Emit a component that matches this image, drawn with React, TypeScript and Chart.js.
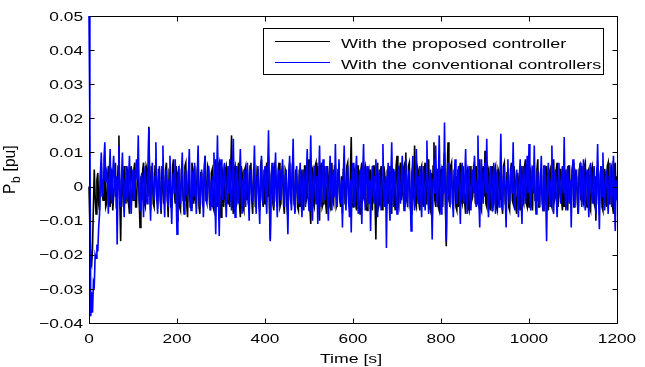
import React, { useEffect, useRef } from "react";
import { Chart, registerables } from "chart.js";

Chart.register(...registerables);

// Sampling step of both recorded series [s]
const DT = 2;

// P_b [pu] with the proposed controller (black)
const proposed = [
  0, -0.012, -0.022, -0.023, -0.018, -0.006, 0.005, -0.003, -0.008, 0.002, 0.004, -0.005, -0.007, 0.003, 0.007, -0.002, -0.004, 0.004, 0.006, -0.006,
  -0.005, 0.002, 0.006, -0.004, -0.006, 0.005, 0.004, -0.007, -0.003, 0.003, 0.007, -0.005, -0.004, 0.006, 0.015, -0.004, -0.016, 0.002, 0.005, -0.006,
  0.006, -0.003, -0.005, 0.006, 0.003, -0.005, -0.008, 0.004, 0.006, 0.001, -0.004, 0.005, 0.007, -0.006, -0.006, 0.004, 0.005, -0.004, -0.012, 0.003,
  -0.004, 0.005, 0.007, -0.005, -0.006, 0.006, 0.005, -0.003, 0.0175, 0.002, -0.007, 0.006, 0.004, -0.005, -0.006, 0.006, 0.008, -0.004, -0.005, 0.005,
  0.005, -0.004, -0.008, 0.006, 0.006, -0.005, -0.002, 0.005, 0.007, -0.003, -0.009, 0.004, 0.003, -0.006, -0.006, 0.006, 0.008, -0.002, -0.005, 0.006,
  -0.010, 0.004, 0.005, -0.006, -0.007, 0.005, 0.006, -0.004, -0.004, 0.006, 0.007, -0.005, -0.009, 0.003, 0.002, -0.006, -0.006, 0.007, 0.004, -0.005,
  0.006, -0.004, -0.005, 0.005, 0.007, -0.006, -0.008, 0.004, 0.004, -0.005, -0.006, 0.006, 0.009, -0.004, -0.003, 0.006, 0.005, -0.005, -0.007, 0.004,
  0.005, -0.006, -0.007, 0.005, 0.008, -0.003, -0.006, 0.006, 0.007, -0.005, -0.009, 0.004, 0.005, -0.006, -0.002, 0.005, 0.006, -0.004, -0.005, 0.006,
  -0.006, 0.005, 0.015, -0.004, -0.008, 0.005, 0.006, -0.006, -0.005, 0.004, 0.007, -0.005, -0.009, 0.006, 0.004, -0.006, -0.007, 0.005, 0.006, -0.004,
  0.005, -0.005, -0.006, 0.006, 0.007, -0.004, -0.008, 0.005, 0.006, -0.006, -0.003, 0.005, 0.004, -0.005, -0.007, 0.006, 0.008, -0.004, -0.006, 0.005,
  -0.005, 0.004, 0.007, -0.003, 0.009, -0.006, -0.0155, 0.003, 0.006, -0.005, -0.007, 0.006, 0.005, -0.004, -0.006, 0.005, 0.007, -0.006, -0.005, 0.004,
  0.006, -0.005, -0.008, 0.005, 0.004, -0.006, -0.009, 0.004, 0.007, -0.004, -0.005, 0.006, 0.008, -0.005, -0.006, 0.005, 0.003, -0.006, -0.007, 0.005,
  -0.006, 0.004, 0.005, -0.005, -0.007, 0.006, 0.006, -0.004, -0.003, 0.005, 0.008, -0.006, -0.011, 0.004, 0.005, -0.005, -0.006, 0.006, 0.007, -0.004,
  0.006, -0.004, -0.010, 0.005, 0.007, -0.006, -0.005, 0.004, 0.006, -0.005, -0.008, 0.006, 0.002, -0.005, -0.006, 0.005, 0.007, -0.004, -0.005, 0.006,
  0.006, -0.006, -0.005, 0.005, 0.007, -0.004, -0.006, 0.003, -0.008, 0.005, 0.006, -0.005, -0.004, 0.006, 0.007, -0.005, -0.006, 0.004, 0.0145, -0.005,
  -0.006, 0.004, 0.005, -0.005, -0.007, 0.006, 0.006, -0.006, -0.008, 0.005, 0.007, -0.004, -0.003, 0.005, 0.006, -0.006, -0.007, 0.004, 0.005, -0.005,
  0.005, -0.005, -0.007, 0.006, 0.006, -0.004, -0.0155, 0.005, 0.007, -0.006, -0.005, 0.004, 0.006, -0.005, -0.007, 0.006, 0.004, -0.005, -0.006, 0.005,
  -0.005, 0.004, 0.006, -0.006, -0.008, 0.005, 0.005, -0.004, -0.007, 0.006, 0.009, -0.005, -0.006, 0.005, 0.007, -0.004, -0.002, 0.005, 0.006, -0.006,
  0.010, -0.004, -0.005, 0.006, 0.007, -0.006, -0.008, 0.004, 0.006, -0.003, 0.012, -0.005, -0.006, 0.006, 0.005, -0.005, -0.007, 0.005, 0.006, -0.004,
  -0.006, 0.005, 0.007, -0.005, -0.004, 0.006, 0.008, -0.006, -0.007, 0.004, -0.010, 0.006, 0.013, -0.004, -0.006, 0.005, 0.005, -0.006, -0.007, 0.004,
  0.005, -0.004, -0.006, 0.006, 0.010, -0.005, -0.0175, 0.004, 0.013, -0.004, -0.005, 0.006, 0.007, -0.005, -0.006, 0.005, 0.003, -0.006, -0.007, 0.005,
  -0.006, 0.005, 0.007, -0.004, -0.005, 0.006, 0.006, -0.005, -0.008, 0.004, 0.005, -0.006, -0.007, 0.005, 0.006, -0.004, -0.003, 0.006, 0.007, -0.005,
  0.006, -0.004, -0.005, 0.005, 0.008, -0.006, -0.007, 0.004, 0.006, -0.003, 0.0105, -0.005, -0.006, 0.006, 0.005, -0.005, -0.007, 0.004, 0.006, -0.006,
  -0.005, 0.005, 0.006, -0.006, -0.007, 0.005, 0.004, -0.004, 0.006, -0.005, -0.008, 0.006, 0.007, -0.005, -0.006, 0.004, 0.005, -0.006, -0.007, 0.005,
  0.007, -0.004, -0.005, 0.006, 0.006, -0.006, -0.008, 0.004, 0.002, -0.005, -0.007, 0.005, 0.006, -0.004, -0.005, 0.006, 0.008, -0.005, -0.006, 0.004,
  -0.006, 0.004, 0.005, -0.005, -0.007, 0.006, 0.006, -0.004, -0.004, 0.005, 0.008, -0.006, -0.006, 0.004, 0.005, -0.005, -0.007, 0.006, 0.006, -0.004,
  0.006, -0.005, -0.007, 0.004, 0.005, -0.005, -0.006, 0.006, 0.008, -0.004, -0.003, 0.005, 0.007, -0.006, -0.006, 0.005, 0.005, -0.004, -0.007, 0.006,
  -0.006, 0.004, 0.005, -0.005, -0.007, 0.006, 0.006, -0.004, -0.005, 0.005, 0.007, -0.006, -0.006, 0.004, 0.003, -0.005, -0.008, 0.005, 0.006, -0.004,
  0.006, -0.004, -0.005, 0.006, 0.007, -0.005, -0.006, 0.004, 0.005, -0.006, -0.007, 0.005, 0.006, -0.004, -0.005, 0.003, -0.010, 0.005, 0.006, -0.005,
  -0.005, 0.004, 0.006, -0.006, -0.007, 0.005, 0.005, -0.004, -0.006, 0.006, 0.007, -0.005, -0.004, 0.005, 0.006, -0.006, -0.008, 0.005, 0.007, -0.004,
  0.003,
];

// P_b [pu] with the conventional controllers (blue)
const conventional = [
  0.05, 0.018, -0.038, -0.031, -0.037, -0.028, -0.029, -0.020, -0.021, -0.017, -0.019, -0.012, -0.008, 0.004, 0.010, -0.003, 0.002, 0.008, 0.013, 0.001,
  0.004, 0.002, -0.008, 0.003, 0.011, -0.002, -0.005, 0.004, 0.009, 0.001, -0.003, 0.003, -0.017, 0.002, 0.012, -0.004, -0.006, 0.003, 0.010, -0.002,
  -0.009, 0.002, 0.006, -0.003, -0.004, 0.003, 0.009, -0.002, -0.008, 0.001, 0.005, -0.004, -0.002, 0.003, 0.008, 0.002, 0.015, -0.003, -0.007, 0.002,
  0.004, -0.002, -0.009, 0.003, 0.006, -0.003, -0.005, 0.002, 0.017, -0.001, -0.010, 0.004, 0.007, -0.002, -0.004, 0.003, 0.013, -0.003, -0.008, 0.002,
  0.006, -0.003, -0.007, 0.002, 0.012, -0.002, -0.009, 0.003, 0.005, -0.004, -0.006, 0.002, 0.009, -0.003, -0.011, 0.001, 0.004, -0.002, 0.008, -0.003,
  -0.014, 0.002, 0.006, -0.002, -0.005, 0.003, 0.010, -0.003, -0.008, 0.002, 0.005, -0.002, -0.003, 0.004, 0.011, -0.002, -0.007, 0.003, 0.004, -0.003,
  0.007, -0.002, -0.008, 0.003, 0.012, -0.003, -0.006, 0.002, 0.005, -0.001, -0.009, 0.003, 0.009, -0.004, -0.005, 0.002, 0.006, -0.003, -0.007, 0.002,
  -0.006, 0.003, 0.010, -0.002, -0.014, 0.002, 0.015, -0.003, -0.0145, 0.002, 0.008, -0.002, -0.004, 0.003, 0.007, -0.003, -0.009, 0.002, 0.006, -0.002,
  0.008, -0.003, -0.007, 0.002, 0.014, -0.002, -0.009, 0.003, 0.006, -0.003, -0.005, 0.004, 0.011, -0.002, -0.008, 0.002, 0.005, -0.003, -0.006, 0.003,
  0.007, -0.002, -0.010, 0.003, 0.005, -0.003, -0.004, 0.002, 0.012, -0.002, -0.008, 0.003, 0.006, -0.004, -0.011, 0.002, 0.009, -0.003, -0.005, 0.002,
  0.006, -0.003, -0.008, 0.004, 0.0165, -0.002, -0.016, 0.002, 0.007, -0.003, -0.006, 0.002, 0.010, -0.002, -0.009, 0.003, 0.005, -0.002, -0.004, 0.003,
  0.008, -0.002, -0.006, 0.003, 0.005, -0.003, -0.014, 0.002, 0.009, -0.002, -0.007, 0.003, 0.014, -0.003, -0.008, 0.002, 0.006, -0.003, -0.005, 0.002,
  0.007, -0.003, -0.009, 0.002, 0.005, -0.002, -0.006, 0.003, 0.011, -0.003, -0.007, 0.002, 0.015, -0.002, -0.010, 0.003, 0.006, -0.002, -0.005, 0.003,
  -0.011, 0.002, 0.012, -0.003, -0.006, 0.002, 0.008, -0.002, -0.004, 0.003, 0.006, -0.003, -0.010, 0.002, 0.009, -0.002, -0.007, 0.003, 0.005, -0.003,
  0.0125, -0.002, -0.006, 0.003, 0.008, -0.003, -0.005, 0.002, -0.012, 0.003, 0.012, -0.002, -0.007, 0.002, 0.006, -0.003, -0.009, 0.002, -0.0135, 0.003,
  0.007, -0.002, -0.006, 0.003, 0.009, -0.003, -0.008, 0.002, 0.005, -0.002, -0.011, 0.003, 0.0125, -0.002, -0.007, 0.003, 0.006, -0.003, -0.005, 0.002,
  -0.013, 0.002, 0.006, -0.003, -0.005, 0.003, 0.008, -0.002, -0.009, 0.002, 0.005, -0.003, -0.007, 0.002, 0.0125, -0.002, -0.006, 0.003, -0.018, 0.002,
  0.007, -0.003, -0.010, 0.002, 0.013, -0.002, -0.006, 0.003, 0.005, -0.003, -0.008, 0.002, 0.006, -0.002, -0.005, 0.003, 0.009, -0.002, -0.007, 0.003,
  0.008, -0.002, -0.006, 0.003, 0.005, -0.002, -0.013, 0.003, 0.009, -0.003, -0.007, 0.002, 0.011, -0.002, -0.005, 0.003, 0.006, -0.003, -0.009, 0.002,
  0.006, -0.003, -0.007, 0.002, 0.0135, -0.002, -0.008, 0.003, 0.005, -0.003, -0.0155, 0.002, 0.008, -0.002, 0.012, -0.003, -0.006, 0.002, 0.015, -0.002,
  -0.008, 0.003, 0.006, -0.002, 0.0188, -0.003, -0.016, 0.002, 0.007, -0.002, -0.006, 0.003, 0.005, -0.003, -0.009, 0.002, 0.008, -0.002, -0.005, 0.003,
  0.006, -0.002, -0.011, 0.003, 0.007, -0.003, -0.005, 0.002, 0.011, -0.002, -0.008, 0.003, 0.006, -0.003, -0.007, 0.002, 0.005, -0.002, 0.009, -0.003,
  -0.006, 0.002, 0.015, -0.003, -0.012, 0.002, 0.008, -0.002, -0.005, 0.003, 0.007, -0.002, 0.014, -0.003, -0.009, 0.002, 0.006, -0.003, -0.007, 0.002,
  0.007, -0.002, -0.008, 0.003, 0.005, -0.003, -0.006, 0.002, 0.0155, -0.002, -0.007, 0.003, 0.006, -0.003, -0.012, 0.002, 0.008, -0.002, -0.005, 0.003,
  0.006, -0.002, 0.013, -0.003, -0.007, 0.002, 0.005, -0.002, -0.009, 0.003, 0.008, -0.003, -0.011, 0.002, 0.006, -0.002, -0.005, 0.003, 0.009, -0.002,
  0.0125, -0.003, -0.007, 0.002, 0.006, -0.002, 0.012, -0.003, -0.008, 0.002, 0.005, -0.003, -0.006, 0.002, 0.009, -0.002, -0.007, 0.003, 0.006, -0.003,
  -0.016, 0.002, 0.007, -0.003, -0.006, 0.002, 0.012, -0.002, -0.008, 0.003, 0.005, -0.003, -0.009, 0.002, 0.007, -0.002, -0.005, 0.003, 0.006, -0.002,
  0.0145, -0.002, -0.007, 0.003, 0.006, -0.003, -0.005, 0.002, -0.012, 0.003, 0.008, -0.002, -0.006, 0.003, 0.005, -0.003, -0.008, 0.002, 0.007, -0.002,
  -0.006, 0.003, 0.008, -0.002, -0.007, 0.002, 0.005, -0.003, -0.009, 0.002, 0.007, -0.002, -0.005, 0.003, 0.006, -0.003, -0.008, 0.002, 0.0125, -0.003,
  -0.0125, 0.002, 0.006, -0.003, 0.010, -0.002, -0.007, 0.003, 0.005, -0.002, -0.008, 0.003, 0.007, -0.002, -0.006, 0.002, 0.009, -0.003, -0.013, 0.002,
  -0.004,
];

const times = proposed.map((_, i) => i * DT);

const xTicks = [0, 200, 400, 600, 800, 1000, 1200];
const xTickLabels = ["0", "200", "400", "600", "800", "1000", "1200"];
const yTicks = [-0.04, -0.03, -0.02, -0.01, 0, 0.01, 0.02, 0.03, 0.04, 0.05];
const yTickLabels = ["\u22120.04", "\u22120.03", "\u22120.02", "\u22120.01", "0", "0.01", "0.02", "0.03", "0.04", "0.05"];
const seriesLabels = ["With the proposed controller", "With the conventional controllers"];
const seriesColors = ["#000000", "#0000ff"];
const xTitle = "Time [s]";
const yTitleMain = "P";
const yTitleSub = "b";
const yTitleRest = " [pu]";

const FONT = '13px "Liberation Sans", Arial, Helvetica, sans-serif';
const SUBFONT = '10px "Liberation Sans", Arial, Helvetica, sans-serif';
const SX = 1.33;

function drawText(ctx: CanvasRenderingContext2D, text: string, x: number, y: number, align: CanvasTextAlign, sx: number = SX) {
  ctx.save();
  ctx.translate(x, y);
  ctx.scale(sx, 1);
  ctx.font = FONT;
  ctx.fillStyle = "#000";
  ctx.textAlign = align;
  ctx.textBaseline = "alphabetic";
  ctx.fillText(text, 0, 0);
  ctx.restore();
}

const matlabAxes = {
  id: "matlabAxes",
  beforeDraw(chart: any) {
    const ctx = chart.ctx;
    ctx.save();
    ctx.fillStyle = "#fff";
    ctx.fillRect(0, 0, chart.width, chart.height);
    ctx.restore();
  },
  afterDraw(chart: any) {
    const ctx: CanvasRenderingContext2D = chart.ctx;
    const a = chart.chartArea;
    const xs = chart.scales.x;
    const ys = chart.scales.y;
    const L = Math.round(a.left) + 0.5;
    const R = Math.round(a.right) + 0.5;
    const T = Math.round(a.top) + 0.5;
    const B = Math.round(a.bottom) + 0.5;
    ctx.save();
    ctx.strokeStyle = "#000";
    ctx.lineWidth = 1;
    ctx.strokeRect(L, T, R - L, B - T);
    const tl = 5;
    ctx.beginPath();
    xTicks.forEach((v) => {
      const px = Math.round(xs.getPixelForValue(v)) + 0.5;
      ctx.moveTo(px, B);
      ctx.lineTo(px, B - tl);
      ctx.moveTo(px, T);
      ctx.lineTo(px, T + tl);
    });
    yTicks.forEach((v) => {
      const py = Math.round(ys.getPixelForValue(v)) + 0.5;
      ctx.moveTo(L, py);
      ctx.lineTo(L + tl, py);
      ctx.moveTo(R, py);
      ctx.lineTo(R - tl, py);
    });
    ctx.stroke();

    xTicks.forEach((v, i) => {
      drawText(ctx, xTickLabels[i], xs.getPixelForValue(v), a.bottom + 20, "center");
    });
    yTicks.forEach((v, i) => {
      drawText(ctx, yTickLabels[i], a.left - 6, ys.getPixelForValue(v) + 4.7, "right");
    });
    drawText(ctx, xTitle, (a.left + a.right) / 2 - 2, a.bottom + 40, "center", 1.36);

    // y title with subscript, rotated
    ctx.save();
    ctx.translate(15, 194);
    ctx.rotate(-Math.PI / 2);
    ctx.scale(1.2, 1.2);
    ctx.fillStyle = "#000";
    ctx.textBaseline = "alphabetic";
    ctx.textAlign = "left";
    ctx.font = FONT;
    ctx.fillText(yTitleMain, 0, 0);
    const wP = ctx.measureText(yTitleMain).width;
    ctx.font = SUBFONT;
    ctx.fillText(yTitleSub, wP + 0.5, 4);
    const wb = ctx.measureText(yTitleSub).width;
    ctx.font = FONT;
    ctx.fillText(yTitleRest, wP + wb + 1, 0);
    ctx.restore();

    // legend box
    const lx = 263.5, ly = 28.5, lw = 340, lh = 46;
    ctx.fillStyle = "#fff";
    ctx.fillRect(lx, ly, lw, lh);
    ctx.strokeStyle = "#000";
    ctx.strokeRect(lx, ly, lw, lh);
    const rowY = [41.5, 62.5];
    seriesLabels.forEach((lab, i) => {
      ctx.strokeStyle = seriesColors[i];
      ctx.beginPath();
      ctx.moveTo(275, rowY[i]);
      ctx.lineTo(330, rowY[i]);
      ctx.stroke();
      drawText(ctx, lab, 341, rowY[i] + 6, "left", 1.385);
    });
    ctx.restore();
  },
};

export default function App() {
  const ref = useRef<HTMLCanvasElement | null>(null);
  useEffect(() => {
    if (!ref.current) return;
    const chart = new Chart(ref.current, {
      type: "line",
      data: {
        labels: times,
        datasets: [
          {
            label: seriesLabels[0],
            data: proposed,
            borderColor: seriesColors[0],
            borderWidth: 1.6,
            pointRadius: 0,
            tension: 0,
            fill: false,
            order: 1,
            clip: { left: 2, right: 0, top: 1, bottom: 0 },
          },
          {
            label: seriesLabels[1],
            data: conventional,
            borderColor: seriesColors[1],
            borderWidth: 1.6,
            pointRadius: 0,
            tension: 0,
            fill: false,
            order: 0,
            clip: { left: 2, right: 0, top: 1, bottom: 0 },
          },
        ],
      },
      options: {
        animation: false,
        responsive: false,
        maintainAspectRatio: false,
        devicePixelRatio: 1,
        layout: { padding: { left: 89, right: 28, top: 16, bottom: 44 } },
        plugins: { legend: { display: false }, tooltip: { enabled: false } },
        events: [],
        scales: {
          x: { type: "linear", min: 0, max: 1200, display: false },
          y: { type: "linear", min: -0.04, max: 0.05, display: false },
        },
      },
      plugins: [matlabAxes],
    });
    return () => chart.destroy();
  }, []);
  return (
    <div style={{ position: "fixed", left: 0, top: 0, width: 645, height: 367, background: "#fff" }}>
      <canvas ref={ref} width={645} height={367} style={{ width: 645, height: 367 }} />
    </div>
  );
}
